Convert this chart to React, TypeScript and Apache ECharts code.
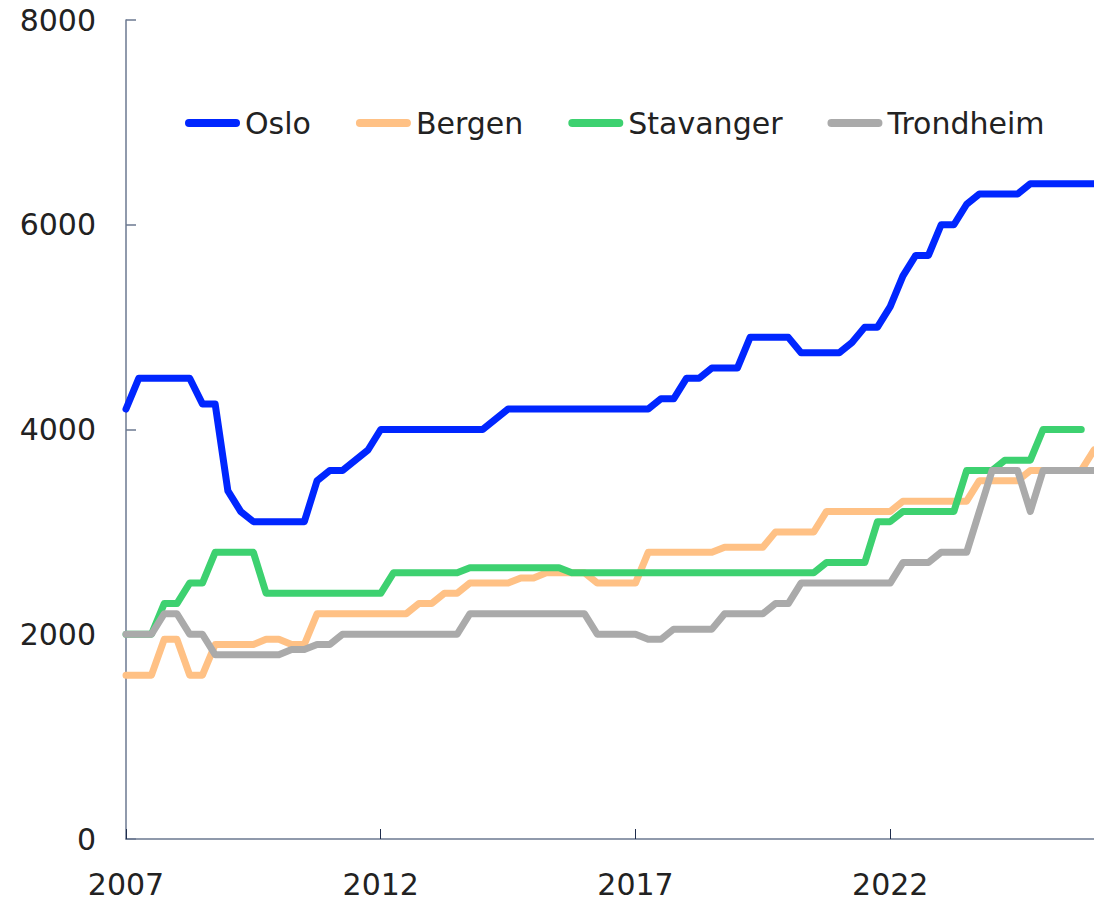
import React, { useEffect, useRef } from "react";
import * as echarts from "echarts";

const quarters: string[] = [];
for (let y = 2007; y <= 2026; y++) {
  for (let q = 1; q <= 4; q++) {
    if (y === 2026 && q > 1) break;
    quarters.push(`${y}Q${q}`);
  }
}

const yTicks = [0, 2000, 4000, 6000, 8000];

const oslo = [
  4200, 4500, 4500, 4500, 4500, 4500, 4250, 4250, 3400, 3200,
  3100, 3100, 3100, 3100, 3100, 3500, 3600, 3600, 3700, 3800,
  4000, 4000, 4000, 4000, 4000, 4000, 4000, 4000, 4000, 4100,
  4200, 4200, 4200, 4200, 4200, 4200, 4200, 4200, 4200, 4200,
  4200, 4200, 4300, 4300, 4500, 4500, 4600, 4600, 4600, 4900,
  4900, 4900, 4900, 4750, 4750, 4750, 4750, 4850, 5000, 5000,
  5200, 5500, 5700, 5700, 6000, 6000, 6200, 6300, 6300, 6300,
  6300, 6400, 6400, 6400, 6400, 6400, 6400,
];

const bergen = [
  1600, 1600, 1600, 1950, 1950, 1600, 1600, 1900, 1900, 1900,
  1900, 1950, 1950, 1900, 1900, 2200, 2200, 2200, 2200, 2200,
  2200, 2200, 2200, 2300, 2300, 2400, 2400, 2500, 2500, 2500,
  2500, 2550, 2550, 2600, 2600, 2600, 2600, 2500, 2500, 2500,
  2500, 2800, 2800, 2800, 2800, 2800, 2800, 2850, 2850, 2850,
  2850, 3000, 3000, 3000, 3000, 3200, 3200, 3200, 3200, 3200,
  3200, 3300, 3300, 3300, 3300, 3300, 3300, 3500, 3500, 3500,
  3500, 3600, 3600, 3600, 3600, 3600, 3800,
];

const stavanger = [
  2000, 2000, 2000, 2300, 2300, 2500, 2500, 2800, 2800, 2800,
  2800, 2400, 2400, 2400, 2400, 2400, 2400, 2400, 2400, 2400,
  2400, 2600, 2600, 2600, 2600, 2600, 2600, 2650, 2650, 2650,
  2650, 2650, 2650, 2650, 2650, 2600, 2600, 2600, 2600, 2600,
  2600, 2600, 2600, 2600, 2600, 2600, 2600, 2600, 2600, 2600,
  2600, 2600, 2600, 2600, 2600, 2700, 2700, 2700, 2700, 3100,
  3100, 3200, 3200, 3200, 3200, 3200, 3600, 3600, 3600, 3700,
  3700, 3700, 4000, 4000, 4000, 4000, null,
];

const trondheim = [
  2000, 2000, 2000, 2200, 2200, 2000, 2000, 1800, 1800, 1800,
  1800, 1800, 1800, 1850, 1850, 1900, 1900, 2000, 2000, 2000,
  2000, 2000, 2000, 2000, 2000, 2000, 2000, 2200, 2200, 2200,
  2200, 2200, 2200, 2200, 2200, 2200, 2200, 2000, 2000, 2000,
  2000, 1950, 1950, 2050, 2050, 2050, 2050, 2200, 2200, 2200,
  2200, 2300, 2300, 2500, 2500, 2500, 2500, 2500, 2500, 2500,
  2500, 2700, 2700, 2700, 2800, 2800, 2800, 3200, 3600, 3600,
  3600, 3200, 3600, 3600, 3600, 3600, 3600,
];

const seriesNames = ["Oslo", "Bergen", "Stavanger", "Trondheim"];
const seriesColors = ["#0026FF", "#FFC185", "#3DD170", "#AAAAAA"];
const seriesData = [oslo, bergen, stavanger, trondheim];

const FONT = "DejaVu Sans";
const TEXT_COLOR = "#222222";

export default function App() {
  const ref = useRef<HTMLDivElement>(null);
  useEffect(() => {
    if (!ref.current) return;
    const chart = echarts.init(ref.current, null, { renderer: "svg" });
    const iconPath = "path://M4,0 L51,0 A4,4 0 0 1 51,8 L4,8 A4,4 0 0 1 4,0 Z";
    chart.setOption({
      animation: false,
      backgroundColor: "#ffffff",
      grid: { left: 126, right: 0, top: 20, bottom: 61, containLabel: false },
      legend: {
        left: 185,
        top: 108,
        padding: 0,
        itemGap: 45,
        itemWidth: 55,
        itemHeight: 8,
        data: seriesNames.map((n) => ({ name: n, icon: iconPath })),
        textStyle: { fontFamily: FONT, fontSize: 30, color: TEXT_COLOR },
      },
      xAxis: {
        type: "category",
        data: quarters,
        boundaryGap: false,
        axisLine: { show: true, lineStyle: { color: "#6b7890", width: 1.5 } },
        axisTick: {
          show: true,
          inside: true,
          length: 10,
          interval: (index: number) => index % 20 === 0,
          lineStyle: { color: "#1f2d4d", width: 1 },
        },
        axisLabel: {
          interval: (index: number) => index % 20 === 0,
          formatter: (v: string) => v.slice(0, 4),
          fontFamily: FONT,
          fontSize: 30,
          color: TEXT_COLOR,
          margin: 30,
        },
        splitLine: { show: false },
      },
      yAxis: {
        type: "value",
        min: yTicks[0],
        max: yTicks[yTicks.length - 1],
        interval: 2000,
        axisLine: { show: true, lineStyle: { color: "#6b7890", width: 1.5 } },
        axisTick: { show: true, inside: true, length: 10, lineStyle: { color: "#6b7890", width: 1.5 } },
        axisLabel: {
          fontFamily: FONT,
          fontSize: 30,
          color: TEXT_COLOR,
          margin: 30,
          formatter: (v: number) => String(v),
        },
        splitLine: { show: false },
      },
      series: seriesNames.map((name, k) => ({
        name,
        type: "line",
        data: seriesData[k],
        showSymbol: false,
        symbol: "none",
        smooth: false,
        itemStyle: { color: seriesColors[k] },
        lineStyle: { color: seriesColors[k], width: 7, cap: "round", join: "round" },
      })),
    });
    return () => chart.dispose();
  }, []);
  return (
    <div
      ref={ref}
      style={{ position: "fixed", left: 0, top: 0, width: 1094, height: 900, background: "#fff" }}
    />
  );
}
